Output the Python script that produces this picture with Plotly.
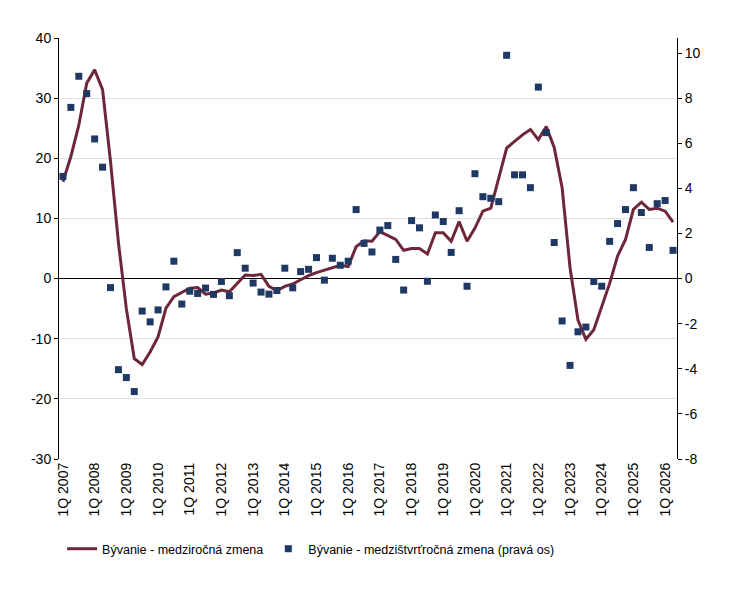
import plotly.graph_objects as go

years = list(range(2007, 2027))
quarters = [f"{q}Q {y}" for y in years for q in range(1, 5)][:78]
tick_labels = [f"1Q {y}" for y in years]
left_ticks = [-30, -20, -10, 0, 10, 20, 30, 40]
right_ticks = [-8, -6, -4, -2, 0, 2, 4, 6, 8, 10]

yoy = [16.1, 20.3, 25.5, 32.5, 34.7, 31.4, 19.5, 6.0, -5.0, -13.3,
       -14.3, -12.2, -9.7, -4.9, -3.0, -2.3, -1.6, -1.5, -2.6, -2.4,
       -1.9, -2.2, -0.8, 0.6, 0.5, 0.7, -1.3, -2.0, -1.3, -0.9,
       -0.2, 0.5, 1.0, 1.4, 1.9, 2.2, 2.0, 5.3, 6.3, 6.2,
       7.8, 7.2, 6.5, 4.7, 5.0, 5.0, 4.1, 7.6, 7.6, 6.2,
       9.5, 6.2, 8.4, 11.2, 11.7, 16.7, 21.7, 22.8, 23.9, 24.8,
       23.1, 25.3, 21.8, 15.1, 1.8, -6.9, -10.1, -8.5, -4.7, -0.8,
       3.75, 6.5, 11.5, 12.7, 11.5, 11.7, 11.2, 9.4]

qoq = [4.53, 7.59, 8.97, 8.2, 6.19, 4.94, -0.40, -4.04, -4.39, -5.01,
       -1.44, -1.92, -1.39, -0.37, 0.77, -1.13, -0.56, -0.66, -0.42, -0.70,
       -0.13, -0.76, 1.15, 0.46, -0.20, -0.60, -0.69, -0.53, 0.46, -0.41,
       0.31, 0.41, 0.93, -0.07, 0.90, 0.59, 0.77, 3.06, 1.56, 1.18,
       2.15, 2.35, 0.85, -0.51, 2.57, 2.25, -0.12, 2.82, 2.53, 1.16,
       3.01, -0.34, 4.65, 3.63, 3.56, 3.41, 9.90, 4.60, 4.60, 4.03,
       8.49, 6.47, 1.60, -1.88, -3.85, -2.36, -2.15, -0.13, -0.34, 1.65,
       2.44, 3.06, 4.03, 2.93, 1.38, 3.32, 3.46, 1.25]

fig = go.Figure()
fig.add_trace(go.Scatter(
    x=quarters, y=yoy, mode="lines", name="Bývanie - medziročná zmena",
    line=dict(color="#6E2639", width=3), yaxis="y"))
fig.add_trace(go.Scatter(
    x=quarters, y=qoq, mode="markers", name="Bývanie - medzištvrťročná zmena (pravá os)",
    marker=dict(symbol="square", color="#1F3864", size=7), yaxis="y2"))

font = dict(family="Liberation Sans, Arial, sans-serif", size=14, color="#000000")
legend_font = dict(family="Liberation Sans, Arial, sans-serif", size=12.5, color="#000000")
fig.update_layout(
    width=740, height=592,
    margin=dict(l=51, r=71, t=30, b=141),
    paper_bgcolor="white", plot_bgcolor="white",
    font=font,
    xaxis=dict(type="category", categoryorder="array", categoryarray=quarters,
               range=[-0.5, 77.5], tickmode="array", tickvals=tick_labels,
               ticktext=tick_labels, tickangle=-90, showgrid=False,
               showline=False, zeroline=False, ticks=""),
    yaxis=dict(range=[-30, 40], tickmode="array", tickvals=left_ticks,
               ticktext=[str(v) for v in left_ticks],
               showgrid=True, gridcolor="#E0E0E0",
               gridwidth=1, zeroline=True, zerolinecolor="#000000", zerolinewidth=1.2,
               showline=True, linecolor="#000000", linewidth=1,
               ticks="outside", ticklen=4, tickcolor="#000000"),
    yaxis2=dict(range=[-8, 32/3], tickmode="array", tickvals=right_ticks,
                ticktext=[str(v) for v in right_ticks],
                overlaying="y", side="right",
                showgrid=False, zeroline=False, showline=True, linecolor="#000000",
                linewidth=1, ticks="outside", ticklen=4, tickcolor="#000000"),
    legend=dict(orientation="h", x=0.005, xanchor="left", y=-0.214, yanchor="middle",
                font=legend_font, itemwidth=30, tracegroupgap=0),
    showlegend=True,
)

fig.write_html("out.html")
